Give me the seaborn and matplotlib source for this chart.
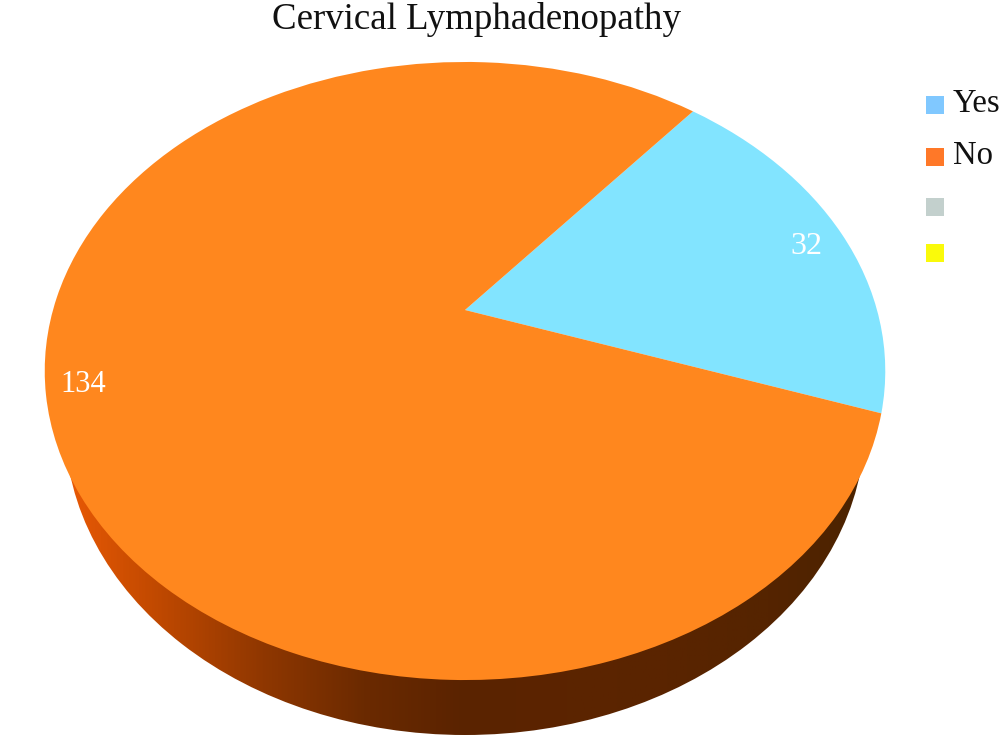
"""
Cervical Lymphadenopathy, tilted 3D pie.

seaborn has no pie, so the slices come from ax.pie and get bent into
perspective by a small projective transform.
"""

import numpy as np
import matplotlib
matplotlib.use("Agg")
import matplotlib.pyplot as plt
import seaborn as sns
from matplotlib.patches import Ellipse, Rectangle
from matplotlib.transforms import Transform


# ── Data ──────────────────────────────────────────────────────────────────────

categories = ["Yes", "No", "", ""]
values = [32, 134]
title = "Cervical Lymphadenopathy"

slice_colors = ["#82E4FF", "#FF871E"]
legend_colors = ["#80C8FF", "#FF7828", "#C3D0CD", "#FAFA0A"]

# side wall shading, left to right
wall_colors = ["#EB5A05", "#BE4800", "#8F3700", "#6B2A00", "#5A2300",
               "#5C2400", "#5A2400", "#552400", "#4B2300"]


# ── Perspective ───────────────────────────────────────────────────────────────

class Tilt(Transform):
    """Unit circle -> tilted disc in pixel coordinates, far side is squeezed."""
    input_dims = output_dims = 2
    is_separable = False
    has_inverse = False

    def __init__(self, cx, cy, ax_, ay_, k):
        super().__init__()
        self.cx, self.cy, self.ax_, self.ay_, self.k = cx, cy, ax_, ay_, k

    def transform_non_affine(self, values):
        xy = np.asarray(values, dtype=float)
        w = 1 + self.k * xy[:, 1]
        return np.column_stack([self.cx + self.ax_ * xy[:, 0] / w,
                                self.cy - self.ay_ * xy[:, 1] / w])


sns.set_theme(style="white")
plt.rcParams["font.family"] = ["Liberation Serif", "DejaVu Serif"]

fig, ax = plt.subplots(figsize=(10, 7.51), dpi=100)
fig.subplots_adjust(0, 0, 1, 1)

# side wall first, the top of the pie covers most of it
wall = ax.imshow(np.linspace(0, 1, 512)[None, :], aspect="auto",
                 extent=(60, 870, 751, 425),
                 cmap=sns.blend_palette(wall_colors, as_cmap=True))
clip = Ellipse((465, 425), 800, 620, transform=ax.transData, fc="none", ec="none")
ax.add_patch(clip)
wall.set_clip_path(clip)

wedges, _ = ax.pie(values, colors=slice_colors, startangle=-19, radius=1,
                   wedgeprops={"linewidth": 0})
tilt = Tilt(465, 310, 412, 297, 0.1974)
for w in wedges:
    w.set_transform(tilt + ax.transData)

ax.set_aspect("auto")
ax.set_xlim(0, 1000)
ax.set_ylim(751, 0)
ax.axis("off")

ax.text(477, 19.5, title, ha="center", va="center", fontsize=26.6, color="#111111")
ax.text(806, 246, str(values[0]), ha="center", va="center", fontsize=23, color="white")
ax.text(83, 384, str(values[1]), ha="center", va="center", fontsize=22, color="white")

# legend keeps the two empty entries of the original
for name, col, y in zip(categories, legend_colors, [96, 148, 198, 244]):
    ax.add_patch(Rectangle((926, y), 18, 17.5, fc=col, ec="none"))
    if name:
        ax.text(953, y + 8, name, ha="left", va="center", fontsize=23.5, color="#111111")

plt.savefig("out.png", dpi=100)
plt.close()
